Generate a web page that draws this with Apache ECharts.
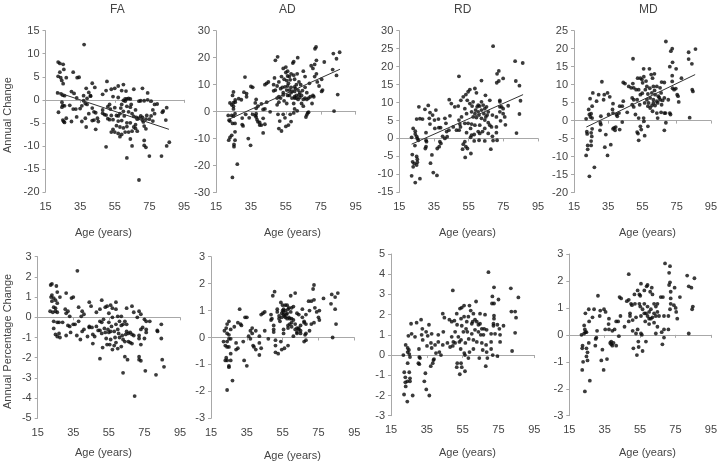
<!DOCTYPE html>
<html><head><meta charset="utf-8">
<style>html,body{margin:0;padding:0;background:#fff}#c{width:720px;height:463px}</style>
<script src="https://cdn.jsdelivr.net/npm/echarts@6/dist/echarts.min.js"></script>
</head><body><div id="c"></div>
<script>
const panelNames=['FA','AD','RD','MD'];
const faAnnual=[[22.3,8.2],[23.3,7.9],[25.2,7.7],[25.6,6.6],[23.3,6],[31,6],[22.3,5.1],[23.8,4.8],[27,4.8],[33.3,4.8],[34.4,4.9],[24.4,4.2],[25.2,3.5],[37.3,12],[42,3.6],[43.5,2.7],[38.5,2.5],[40,1.6],[41,.9],[50.5,4],[57,3],[60,3.3],[55,2.5],[53,2.3],[50,2],[59,2],[61.5,1.9],[66,2.3],[71,2.5],[74,1.5],[48,1.2],[22,1.5],[24,1.3],[25,1],[26,.9],[30,1.8],[31.5,1.4],[33,.4],[37,.9],[39,.3],[41,.8],[54,.7],[57,.5],[62,.2],[64,.2],[69,-.3],[72,-.2],[74,0],[76,-.3],[78,-1],[79.5,-.9],[85,-1.7],[82.5,-2.7],[83,-2.4],[77,-2.2],[78,-3],[76,-3.5],[75,-4.2],[73,-4.2],[77,-4.6],[71,-3.8],[70,-3.5],[84.5,-4.4],[22.5,-2.7],[24.5,-.5],[25,-1.2],[26,-1.3],[24.5,-1.6],[29,-1.2],[31,-2],[32.5,-2],[35,-1.9],[36,-1.3],[38,-.8],[39,-1],[37,-.2],[25,-4.4],[26,-4.9],[27,-4],[25.5,-4.7],[30,-4.7],[33,-3.7],[36,-4.7],[38,-4],[38.5,-5.9],[40,-3],[42,-1.8],[43,-2.6],[44,-2.8],[45,-4],[42,-4.5],[43,-4.4],[45.5,-4.7],[44,-6.4],[48,-2.2],[50,-3.3],[51,-1.5],[52,-1],[52.5,-2],[53,-3.4],[54,-4.3],[55,-1.7],[56,-3.4],[57,-3.5],[58,-3],[58.5,-1.8],[59,-1],[60,-2.5],[60.5,-3.5],[61,-.3],[62,-1.4],[63,-2.6],[64,-1.6],[64.5,-1],[65,-3],[66,-3.6],[67,-2.2],[67.5,-3.8],[68,-4.2],[69,-4],[70,-.2],[71,-4.4],[51,-4.1],[52,-4.3],[53,-7],[54,-6.4],[55,-7],[56,-5.6],[57,-7.3],[58,-8],[59,-7.5],[60,-6.1],[61,-7],[62,-5.8],[63,-7],[64,-5],[65,-6.8],[66,-5.9],[67,-6.2],[68,-6.8],[71.5,-4.8],[72,-5.7],[73,-6.3],[73.5,-3.4],[50,-10.2],[64,-8.5],[65,-10],[62,-12.6],[72,-8.8],[72,-9.9],[73,-10.3],[75,-12.2],[82,-12.2],[85,-10],[86.5,-9.2],[69,-17.4],[67,-5.4],[62,-5],[59,-4.5],[57,-4.6],[58,-5.9],[60,-.1],[61,.2],[48,-2.9],[49,-3.2],[63,.3]];
const adAnnual=[[24.4,-24.4],[27.2,-19.5],[31.6,12.8],[25.3,-13],[25.3,-12.2],[25.9,-10.6],[25.9,-7.5],[24,-8.8],[23,-9.6],[22.3,-10.6],[33.5,-10],[34.8,-12.5],[42,-7.9],[24.5,-4.4],[25.9,-4.4],[22,-1.4],[24,-1.4],[25.9,-.8],[23,-3.5],[22.5,-3.2],[25,-1.7],[23,3.2],[24,2.5],[25,3.3],[25,2],[26,3.5],[26,4.3],[24.5,6],[25,7.3],[25,1],[28,4.8],[29.5,4.4],[31,7.2],[32.5,6.7],[32.5,5.5],[30,-2.4],[30,-4.8],[30.5,-5.3],[32,-1],[34,-2.3],[36,-1],[37.5,-1.5],[35,9.3],[36,9],[37.5,3.2],[38,4.5],[39,2],[38,1.2],[41,2.9],[43,1],[42,.8],[38,-2],[38.5,-3],[39,-3.8],[40,-4],[40,-5],[41,-5],[38,-.8],[43,-4.7],[42,-2.5],[44,3.5],[43,10],[44,10.5],[45,11],[46,-.1],[48.5,12.5],[49,8],[48,7.7],[49,19],[50.3,20.3],[48,10],[50,9.5],[51,11],[52,8.5],[52.5,13],[53,9],[53.5,16],[53.5,7],[54,12],[55,16.5],[55,14.5],[56,15],[55.5,11.5],[56,9.5],[57,13],[57,8],[58,14],[58,9],[59,18],[59.5,18.5],[59.5,13.5],[60,12],[60.5,8.5],[61.8,20],[61.5,14],[62.5,11],[63.5,10],[65,15],[66,13],[66,9],[67,7],[68.5,10.5],[69.5,17],[70.5,16],[71.5,13],[71.5,17.5],[71.7,23.3],[72.3,24],[72.5,19],[72.5,14],[73,11],[74,9.5],[75.5,12],[76,8],[75.5,7.5],[77,18.4],[81.8,15.6],[82.2,21.5],[82.6,.2],[84,19.6],[84,13.4],[84.7,6.3],[85.8,22],[50,5],[51,3.5],[50,2.5],[50.5,-1],[51.5,-3.5],[51,-6.3],[52.5,-7.2],[53.5,-1],[54.5,-2.3],[55,-5.5],[56.5,-5],[57.5,-1],[58,-3.7],[59.5,-.5],[61.5,.3],[61,6],[60,5],[61,5],[62,4.5],[63,7],[64,6],[64,3],[65,4.5],[65,2],[66,5],[67,4.5],[68,5],[69,5.5],[70,3],[70.5,6],[71,5.5],[66.5,-2],[67,-1.2],[67.5,-.5],[68,-.2],[54,4],[55.5,3],[57,6],[58,7],[60,7.5],[62,8],[56,6],[53.5,6.2],[52,5],[51,5.5],[58.5,5],[59.5,3],[60,1],[54.5,9.2],[55.5,8],[56.5,10.5],[57.5,11.8],[56,13.2],[58.5,7.6],[60,9.2],[61,10],[62.5,6.2],[63,5.2],[64.5,7.8],[60,5.5]];
const rdAnnual=[[22.1,.3],[23,2.8],[24.2,2],[24.2,1.2],[25,.6],[25.4,0],[26,-.5],[24,-2],[22.5,-4.5],[22.7,-6.5],[23.6,-7],[23,-7.9],[25,-5],[25.4,-5.8],[25.4,-6.6],[25,-7.4],[22.1,-10.4],[24.2,-12.3],[26.9,-11.2],[25,5.4],[26.9,5.5],[28.4,5.4],[26.3,8.8],[29.8,8.1],[31.7,9.2],[30.4,1.6],[30.4,-.5],[30.7,-.9],[30.4,-2.3],[30,-2.8],[32.7,7.2],[32.3,5.6],[32.7,4],[34.2,6.5],[33.8,-4.6],[33,-6.9],[34.6,-9.5],[36.7,-10.3],[35.3,5.1],[36.1,7.9],[37.6,5.4],[35.5,2.8],[37.8,3],[38.8,3],[36.9,-2.8],[38,-2.3],[39,-1.4],[38.4,-.9],[40,.6],[41.3,5.6],[41.9,4.2],[42.3,1.9],[41.3,0],[42.6,.5],[43.6,2.3],[43.8,10.8],[45,9.7],[44.2,6.3],[46.1,3.2],[48,2.3],[47,8.8],[49,9],[49.4,17.3],[49.4,5.1],[49.9,4],[50.3,3.2],[49.5,2.3],[50.9,6],[50.5,10.6],[51.9,11.6],[53.4,12.2],[54.7,13],[55.7,13.6],[54.2,10.6],[55.7,9.7],[57,9],[58.6,13.9],[59.5,12.7],[60.5,9.3],[52.8,8.3],[53.8,6.9],[56.7,7.4],[58.6,6.9],[61,6.5],[62.4,7.9],[63.4,9.3],[62.4,16.1],[64.7,12],[67.2,10.6],[64.3,8.3],[66.3,7.4],[52.8,4.2],[54.7,4.2],[56.7,4],[58.6,3.7],[61.4,3.7],[64.3,5.1],[65.7,6.5],[67.2,3.7],[68.7,6.5],[71,6],[71,3.2],[68.2,3.2],[66.3,1.4],[64.3,-.7],[67.8,-3],[68.7,.6],[69.1,-.6],[71.4,-.5],[71,1.6],[73,10.6],[73,10.2],[73,8.8],[74,8.8],[74.9,8.3],[73,7.4],[74.9,6.9],[73.4,4.9],[75.8,6],[76.2,3.8],[77.8,9.1],[69.1,25.7],[71.4,18],[72.4,18.8],[71.2,15.5],[72.4,16],[74.9,16.7],[81.8,21.5],[86.2,21],[82.2,16],[84.3,14.7],[84.9,10.5],[84.3,6.8],[82.6,1.5],[51.5,-3],[51.9,-1.6],[52.8,-.9],[53.4,-2.3],[54.3,-2.8],[53,-5.3],[56.3,-4.2],[53.8,1.6],[56.1,2.8],[56.7,.9],[56.1,.3],[58.2,-.7],[58.2,1.1],[60.5,1.9],[61.4,1.4],[61,-.5],[57.6,10.2],[59.9,8.8],[61.4,9],[62.4,10.2],[59,7.9],[60.5,7.4],[63.8,6.9],[65.3,8.8],[57.6,6],[59.5,5.8],[62.4,5.6],[64.9,6],[66.3,4.4],[64.3,2.8],[63,1.9]];
const mdAnnual=[[22.1,.5],[22.5,-3.1],[22.7,-3.7],[22.1,-9.7],[23,-8],[24,-15.5],[23.6,3.1],[24,1.7],[25,1.9],[24.6,1],[25.6,.7],[24.4,6.1],[26,7.7],[25.6,4],[23,-6.9],[25,-6.9],[25,-5.7],[25.4,-4.4],[25.6,-2.3],[25,-3.4],[26.9,-13],[28.2,5.4],[29.4,7.2],[30.4,-.6],[30.2,-2.7],[30.7,1.2],[30.7,-1.1],[31.3,10.8],[32.7,7.2],[32.3,5.8],[33,-7.4],[33.6,-3.9],[34.6,7.7],[34.6,-9.7],[35.2,1.7],[35.9,6.6],[36.5,-6.7],[37.5,3.1],[37.8,4.7],[37.8,2.1],[38.4,-2],[37.8,-2.3],[39.4,-1.8],[39,-2.7],[39.8,1.7],[41.3,2.1],[40.3,1.2],[41.7,-2.5],[41.7,4],[43.2,4],[43.2,-.4],[43.8,10.6],[44.8,10.3],[43.8,5.4],[46.1,2.3],[47,9.5],[48.4,9.1],[49.5,17.2],[49.4,10.3],[49.9,9.1],[51.3,8.6],[49,6.3],[49.9,5.8],[49,4.4],[49.9,3.8],[50.9,1.7],[51.9,5.8],[52.2,11.8],[53.8,11.8],[52.8,8.6],[52.8,.7],[51.9,-3.2],[52.4,-3.6],[52.8,-5.5],[53.8,-1.6],[54.3,-2.5],[54.7,11.4],[55.7,14.4],[55.1,10.5],[53.8,7.2],[53.4,4.4],[55.7,.7],[55.9,-.2],[56.3,-4.2],[56.7,8.6],[57.6,9.5],[56.3,4.9],[58.2,4],[59.1,14.4],[60.1,12.8],[60.9,11.8],[62,13],[58.2,-1.6],[59.5,3.5],[60.9,2.6],[61.4,9.5],[63.4,9.5],[65.3,9.1],[66.2,10.7],[67.8,10.6],[60.5,7.7],[62.4,7.2],[64.3,6.8],[61.4,5.8],[63.4,5.4],[65.3,5.8],[66.2,4.4],[67.8,6.3],[63.9,.7],[65.9,2.3],[67.8,2.1],[67.8,-2.7],[68.7,22],[68.7,-.6],[68.5,2.1],[70.1,5.8],[71,2.1],[71.4,1.7],[71,15],[71.6,19.3],[72.4,20],[72.6,16.2],[72.4,12.5],[72.4,10.9],[72.6,9],[73.5,8.6],[74.5,8.9],[74.7,14.4],[75.3,7.2],[75.8,6.8],[76.2,5.2],[77.8,11.8],[82,19],[82,17.1],[82.6,.8],[83.9,15.8],[84.5,8.1],[84.1,8.6],[86,19.9],[63.4,2.1],[58.6,4.9],[61.4,4.9],[65.9,7.7],[57.6,5.8],[59.5,6.3],[62.4,4.2],[54.9,7.6],[55.8,12.2],[57.1,11],[58.2,7.4],[59.3,9],[60.6,4.2],[62.1,8.4],[63.9,4.9],[64.8,6.4],[66.8,5.6]];
const faPercent=[[22.3,1.6],[23,1.65],[25.5,1.55],[26,1.25],[31,1.2],[22.5,1],[23,1.1],[24,.95],[25,.85],[26,.7],[27.5,1],[34,.95],[35,1],[23,.8],[24,.5],[25,.45],[22,.3],[23.5,.25],[25,.3],[26,.25],[30.5,.4],[31,.2],[32,.3],[33,.05],[38,.5],[40,.3],[41,.15],[39.5,.05],[44,.75],[45,.55],[37.3,2.3],[51,.85],[48,.25],[50,.4],[53,.5],[54,.55],[56,.6],[57,.45],[59,.75],[59,.4],[55,.2],[57,0],[60,.05],[62,.05],[65,.45],[68,.55],[69,.25],[72,.3],[73,.15],[71,0],[64,-.2],[76,-.2],[78,-.2],[75,-.1],[24,-.2],[26,-.25],[27,-.25],[24,-.55],[25,-.85],[26,-.95],[27,-.8],[27.5,-1],[29,-.25],[31,-.9],[32,-.4],[33,-.45],[33.5,-.75],[35,-.35],[36,-.35],[37,-.9],[38,-.2],[39,-1.1],[40,-.7],[41,-.6],[43,-.95],[44,-.5],[44,-.45],[45.5,-.5],[46,-.85],[46,-1.3],[47,-.95],[48,-.45],[49,-.65],[50,-.65],[50,-.2],[51,-.25],[51,-.8],[51.5,-1.5],[52,-.1],[53,-.75],[54,-1.35],[55,-.25],[55,-.75],[56,-.7],[56,-1.1],[57,-1.6],[58,-.7],[58,-1.4],[59,-.35],[59,-1.25],[60,-.6],[60,-1.55],[61,-.2],[61,-1],[62,-.4],[62,-1.45],[63,-.35],[63,-1.1],[64,-1.2],[65,-.7],[65,-.35],[66,-.8],[66,-1.2],[67,-.75],[67,-1.25],[68,-.85],[68,-1.3],[69,-.9],[72,-.9],[72,-1.05],[73,-.6],[73,-1.35],[74,-.5],[75,-1.05],[76,-.75],[76,-.6],[50,-2.05],[64,-1.95],[65.5,-2.1],[63,-2.75],[72,-1.95],[72,-2.1],[73,-2.15],[75.5,-2.65],[81.5,-2.85],[82.2,-.65],[82.4,-.7],[84.5,-.35],[84.5,-1.05],[85,-2.1],[86,-2.45],[69.5,-3.9],[54.5,-.6],[56.5,-.45],[58.5,-1],[60.5,-.8],[62.5,-.9],[64.5,-.85],[52.5,-.55],[53.5,-1.05],[55.5,-1.35]];
const adPercent=[[24,-1.95],[27,-1.6],[31,1.05],[25,-1.1],[25,-1.05],[26,-.85],[24,-.85],[23,-.85],[23.5,-.75],[26,-.6],[33.5,-.85],[35,-1.05],[42,-.65],[22,-.15],[24,-.15],[26,-.05],[25,-.05],[23,-.3],[24,-.35],[25,-.35],[22.5,.25],[24,.15],[26,.3],[25,.1],[24,.5],[25,.6],[23.5,.35],[28,.4],[30,.55],[31.5,.5],[32,.45],[30,-.4],[29,-.2],[29,-.45],[33,-.15],[34,.75],[35,.75],[36,.05],[37,-.05],[37,.25],[38,.35],[38.5,-.3],[39,-.35],[40,-.45],[38,.15],[40,.25],[42,.05],[42,-.2],[43,-.4],[43,.85],[44,.9],[45,.95],[45,.25],[47,-.05],[48.5,.85],[48.5,.65],[49,.7],[49.5,1.55],[50.5,1.7],[50,.45],[50,.3],[50,.2],[51,-.1],[51,-.3],[51,-.55],[52,.95],[52,1.05],[53,.8],[53,.7],[52.5,-.6],[54,1.3],[53.5,.6],[54,-.15],[55,1.2],[54.5,.75],[54.5,-.45],[55.5,1.05],[55.5,.85],[55.5,.3],[55.5,.15],[56,-.4],[56.5,1.2],[56.5,1],[56.5,.75],[57.5,1.2],[57.5,.9],[57.5,.7],[58.5,1.1],[58,-.3],[59.5,1.55],[59,.7],[60,1.1],[60,.55],[60,.4],[61,1.15],[61,.65],[61,.05],[62,1.65],[62,.5],[63,.9],[63,.35],[63,.15],[64,.85],[64,.3],[65,.45],[65,.25],[66,1.05],[66,.75],[67,.6],[67,-.15],[68,.85],[68,.5],[68,-.1],[69.5,1.35],[70,1],[70,.25],[71,1.35],[71,.5],[72,1.8],[72.5,1.95],[72.5,1.4],[73,1.1],[72.5,.55],[74,.95],[75,.75],[75.5,1],[75.5,.65],[77.8,1.45],[82,1.25],[82.4,1.6],[82.9,0],[84.3,1.5],[84.3,1.05],[84.8,.5],[85.8,1.65],[58,.45],[58,.35],[59,.5],[62,.3],[63,.2],[64,.35],[65,.15],[67,.55],[68,.15],[67.5,.1],[55,1],[55.5,.95],[56,.8],[57,.85],[58,1.05],[58.5,.75],[54.5,.9],[59.5,.95],[60,.7]];
const rdPercent=[[21.9,0],[23.2,.5],[24.3,.35],[25,.25],[24.3,.15],[25.2,.05],[25.6,-.1],[24.3,-.4],[22.4,-.85],[25.2,-.85],[23,-1.1],[25.6,-1.15],[23,-1.35],[24.1,-1.3],[25.6,-1.3],[23.2,-1.55],[22.3,-1.95],[24.1,-2.3],[27.1,-2],[24.7,.95],[26.5,1.05],[26.2,1.55],[28.4,.9],[29.3,1.6],[31.8,1.75],[30.6,.3],[30.8,-.1],[30.3,-.4],[30.8,-.45],[31.2,-.15],[32.5,1.3],[32.1,1],[32.7,.75],[34.6,1.15],[33.6,-1.3],[34.2,-.9],[34.7,-1.7],[36.4,-2],[35.5,.95],[35.1,.45],[36.2,1.5],[37.7,1.05],[37.3,.6],[37.7,.35],[37.2,-.55],[38.3,-.4],[38.7,-.25],[39,-.2],[39.6,.5],[40.1,.1],[41.4,1],[41.4,.65],[42,.15],[42.9,0],[43.9,.5],[43.9,2.05],[44.8,1.85],[44.2,1.15],[46.5,.6],[47.6,1.75],[48.9,1.65],[49.5,3.2],[48,.4],[48.9,.9],[49.8,.65],[49.5,.45],[50.8,1.15],[50.8,.6],[50.4,1.7],[51.7,2.05],[51.9,1.5],[52.6,.9],[53.2,.65],[52,-.4],[51.7,-.6],[53.4,-.95],[54.1,-.4],[54.5,-.6],[53.5,2.3],[54.5,2.35],[55.8,2.45],[54.1,1.8],[54.5,1.45],[54.1,.75],[53.9,.3],[56.3,0],[55.9,.1],[56.3,-.8],[56.5,.6],[56.9,1.3],[57.6,1.15],[58.2,1.9],[58.8,2.45],[59.5,2.2],[58.4,.8],[58.8,.15],[58.2,-.15],[60.1,1.05],[61,2.05],[60.6,1.65],[61,.3],[61.9,1.25],[62.5,2.65],[62.9,1.65],[62.9,.65],[63.8,1.15],[64.3,-.15],[64.7,2.05],[64.7,1.55],[65.1,1],[65.7,.6],[66.2,.25],[67,1.3],[67.5,2],[67.9,-.55],[68.1,.5],[68.4,1.25],[68.4,.15],[68.8,-.15],[69.4,4.1],[70.9,.3],[70.9,1.05],[70.9,.65],[71.6,2.9],[71.4,2.55],[72.5,3.35],[72.5,2.55],[72.5,1.95],[72.5,1.8],[72.2,1.55],[72.2,1.45],[71.8,0],[73.1,1.05],[74.4,1.5],[75,2.75],[75.5,1.3],[75.9,1],[75.9,.65],[77.8,1.45],[81.9,3.3],[82.6,.2],[82.2,2.15],[84.3,2.15],[84.3,1.1],[84.8,1.85],[86.1,2.85],[74.4,-.05],[60.1,1.55],[61.9,1.75],[63.8,1.5],[65.7,1.3],[66.6,1],[61,.75],[55.4,1.15],[55.8,1.9],[57.3,1.65]];
const mdPercent=[[21.9,0],[22.3,-1.3],[22.5,-.4],[22.3,-.5],[23.4,.35],[23.8,.2],[23.4,.05],[24.1,.1],[24.7,.1],[23.8,-2.1],[24.1,.8],[22.8,-1],[24.7,-.5],[25.3,-.65],[24.7,-.8],[25.3,-.95],[26,-.3],[26,.95],[26.2,.5],[26.6,-1.7],[28.1,.65],[29,.95],[29.7,-.4],[30.3,-.1],[30.7,.15],[29.9,-.15],[31.2,1.45],[32.5,.9],[32.2,.7],[33.1,-.95],[33.7,-.55],[34.4,-1.3],[34.6,.95],[35.5,.85],[35.3,.2],[36.3,-.9],[37.2,.4],[37.4,.6],[37.4,.2],[38.1,-.3],[38.7,-.25],[38.7,-.35],[39.3,.15],[39.3,-.4],[40,-.3],[40.6,.2],[41.5,.5],[41.5,-.4],[42.6,.5],[43,-.05],[43.4,1.4],[44.3,1.35],[43.9,.7],[46.2,.3],[47.5,1.25],[48.6,1.3],[48.6,2.25],[48.6,.5],[49.3,.8],[49.3,.7],[49.9,1.15],[50.4,1.1],[50.8,.55],[50.8,.15],[51.2,-.5],[51.8,1.5],[52.1,1.15],[52.7,.65],[52.7,.05],[53.2,-.75],[53.6,1.65],[53.6,.2],[54,-.25],[54.2,-.45],[54.6,1.5],[55.1,1.45],[55.5,1.9],[55.1,1.05],[55.5,.7],[55.5,.05],[56,0],[56.4,-.6],[57.4,1.15],[57.4,.8],[57.9,.5],[58.3,-.25],[59.2,1.85],[59.2,1.05],[58.7,1.8],[60.1,.4],[60.7,1.6],[61.6,1.75],[62,1.5],[61.1,.95],[62,.65],[62.9,1.15],[63.9,.05],[63.9,.7],[64.8,1.15],[65.7,.7],[64.8,.3],[66.7,1.4],[67.2,.1],[67.6,-.35],[68.5,.7],[68.5,.2],[67.9,1.4],[69.1,2.65],[68.5,-.1],[71,.2],[71,.7],[71.9,2.55],[71.4,2.3],[71.9,1.95],[71.4,1.85],[72.3,1.6],[72.3,1.35],[72.3,1.15],[71.9,.95],[74.5,1.75],[74.1,1.1],[75.1,1],[75.4,.85],[76,.6],[77.5,1.4],[81.6,2.2],[82.5,1.8],[82.5,.05],[84,1.75],[84.4,.95],[84.8,1.05],[85.7,2.1],[58.3,.8],[59.2,.7],[60.1,.85],[61.1,.6],[62.9,.8],[63.9,1.05],[64.8,.85],[62.9,.45],[60.1,.6],[56.4,.95],[54.6,1.15],[57.4,1.65]];
const trendFA=[[21.3,1.7],[86.3,-6.4]];
const trendAD=[[22.6,-2.8],[86,15.7]];
const trendRD=[[22.1,-1.6],[86.4,12.2]];
const trendMD=[[22.2,-1.8],[85.8,12.8]];
const yMins=[-20,-30,-15,-20,-5,-3,-3,-3];
const yMaxs=[15,30,30,25,3,3,5,3];
const yIntervals=[5,10,5,5,1,1,1,1];
const allSeries=[faAnnual,adAnnual,rdAnnual,mdAnnual,faPercent,adPercent,rdPercent,mdPercent];
const trends=[trendFA,trendAD,trendRD,trendMD,null,null,null,null];
const rects=[[45.5,30.7,184,192],[216,30.7,355.7,192.5],[399.3,30.7,538,192.3],[574,30.7,713,192.5],[37.7,256.7,180,418.3],[211,256.7,354.3,418.3],[391,254,534.3,415.7],[569.3,254,712.3,415.7]];
const ageLabelPos=[[104,234],[293,234],[468,234],[648,234],[104,454],[293,457],[468,454],[648,454]];
const titleX=[118,287,462,647];
const gray='#a8a8a8',txt='#444',font='"Liberation Sans",Arial,sans-serif';
const grid=[],xAxis=[],yAxis=[],series=[],graphic=[];
rects.forEach((r,i)=>{
  grid.push({left:r[0],top:r[1],width:r[2]-r[0],height:r[3]-r[1]});
  xAxis.push({type:'value',gridIndex:i,min:15,max:95,interval:20,position:'bottom',splitLine:{show:false},
    axisLine:{show:false,onZero:false},axisTick:{show:false},axisLabel:{color:txt,fontFamily:font,fontSize:11,margin:9}});
  xAxis.push({type:'value',gridIndex:i,min:15,max:95,interval:20,position:'bottom',splitLine:{show:false},
    axisLine:{show:true,onZero:true,lineStyle:{color:gray,width:1}},axisTick:{show:true,length:3,lineStyle:{color:gray}},axisLabel:{show:false}});
  yAxis.push({type:'value',gridIndex:i,min:yMins[i],max:yMaxs[i],interval:yIntervals[i],splitLine:{show:false},
    axisLine:{show:true,onZero:false,lineStyle:{color:gray,width:1}},axisTick:{show:true,length:3,lineStyle:{color:gray}},
    axisLabel:{color:txt,fontFamily:font,fontSize:11,margin:6}});
  series.push({type:'scatter',xAxisIndex:i*2,yAxisIndex:i,data:allSeries[i],symbolSize:3.8,itemStyle:{color:'#0a0a0a'},silent:true});
  if(trends[i])series.push({type:'line',xAxisIndex:i*2,yAxisIndex:i,data:trends[i],symbol:'none',lineStyle:{color:'#333',width:1},silent:true});
  graphic.push({type:'text',left:ageLabelPos[i][0]-29,top:ageLabelPos[i][1]-7,style:{text:'Age (years)',fill:txt,font:'11px '+font}});
  if(i<4)graphic.push({type:'text',left:titleX[i]-8,top:4,style:{text:panelNames[i],fill:txt,font:'12px '+font}});
});
graphic.push({type:'text',rotation:Math.PI/2,x:2,y:153,style:{text:'Annual Change',fill:txt,font:'11px '+font}});
graphic.push({type:'text',rotation:Math.PI/2,x:2,y:409,style:{text:'Annual Percentage Change',fill:txt,font:'11px '+font}});
const chart=echarts.init(document.getElementById('c'),null,{renderer:'canvas'});
chart.setOption({animation:false,backgroundColor:'#fff',grid,xAxis,yAxis,series,graphic});
</script></body></html>
